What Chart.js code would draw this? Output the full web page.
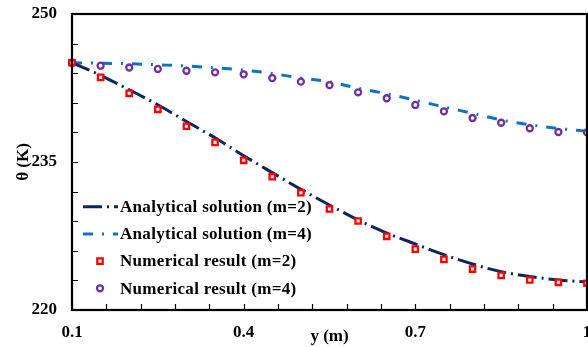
<!DOCTYPE html>
<html>
<head>
<meta charset="utf-8">
<script src="https://cdn.jsdelivr.net/npm/chart.js@4.4.1/dist/chart.umd.min.js"></script>
<style>
html, body { margin: 0; padding: 0; background: #fff; }
#wrap { width: 588px; height: 347px; }
</style>
</head>
<body>
<div id="wrap"><canvas id="myChart"></canvas></div>
<script>
// values
const yPos = [0.1, 0.15, 0.2, 0.25, 0.3, 0.35, 0.4, 0.45, 0.5, 0.55, 0.6, 0.65, 0.7, 0.75, 0.8, 0.85, 0.9, 0.95, 1.0];
const analyticM2 = [245.06, 243.79, 242.32, 240.80, 239.10, 237.45, 235.64, 233.92, 232.23, 230.64, 229.12, 227.80, 226.69, 225.61, 224.66, 223.88, 223.40, 223.04, 222.84];
const analyticM4 = [245.06, 245.01, 244.96, 244.85, 244.73, 244.55, 244.32, 243.97, 243.51, 243.13, 242.47, 241.92, 241.26, 240.58, 239.94, 239.26, 238.77, 238.40, 238.12];
const numericM2 = [245.06, 243.58, 241.96, 240.34, 238.62, 236.99, 235.17, 233.51, 231.89, 230.24, 229.02, 227.47, 226.17, 225.13, 224.15, 223.51, 223.04, 222.80, 222.71];
const numericM4 = [245.06, 244.76, 244.58, 244.43, 244.25, 244.09, 243.89, 243.51, 243.14, 242.80, 242.06, 241.46, 240.78, 240.14, 239.46, 238.98, 238.42, 238.04, 238.01];

const seriesNames = ['Analytical solution (m=2)', 'Analytical solution (m=4)', 'Numerical result (m=2)', 'Numerical result (m=4)'];

const xLabelTicks = [0.1, 0.4, 0.7, 1];
const xMinorTicks = [0.1, 0.16, 0.22, 0.28, 0.34, 0.4, 0.46, 0.52, 0.58, 0.64, 0.7, 0.76, 0.82, 0.88, 0.94, 1.0];
const yLabelTicks = [220, 235, 250];
const yMinorTicks = [220, 223, 226, 229, 232, 235, 238, 241, 244, 247, 250];

const FONT = 'Liberation Serif';

function pairs(vals) {
  return vals.map((v, i) => ({ x: yPos[i], y: v }));
}

// box, inside ticks and the legend inside the plot
const frame = {
  id: 'frame',
  afterDraw(chart) {
    const ctx = chart.ctx;
    const a = chart.chartArea;
    const xs = chart.scales.x;
    const ys = chart.scales.y;
    ctx.save();
    ctx.strokeStyle = '#000';
    ctx.lineWidth = 1.2;
    ctx.beginPath();
    xMinorTicks.forEach(v => {
      const px = Math.round(xs.getPixelForValue(v)) + 0.5;
      ctx.moveTo(px, a.bottom);
      ctx.lineTo(px, a.bottom - 6);
    });
    yMinorTicks.forEach(v => {
      const py = Math.round(ys.getPixelForValue(v)) + 0.5;
      ctx.moveTo(a.left, py);
      ctx.lineTo(a.left + 6, py);
    });
    ctx.stroke();
    ctx.lineWidth = 2.2;
    ctx.strokeRect(a.left, a.top, a.right - a.left, a.bottom - a.top);

    // legend
    ctx.font = 'bold 17px "' + FONT + '"';
    ctx.letterSpacing = '0.3px';
    ctx.textBaseline = 'middle';
    ctx.fillStyle = '#000';
    chart.data.datasets.forEach((ds, i) => {
      const y = a.bottom - 21.7 - (3 - i) * 27.2;
      if (ds.showLine) {
        ctx.setLineDash(ds.borderDash);
        ctx.strokeStyle = ds.borderColor;
        ctx.lineWidth = ds.borderWidth;
        ctx.beginPath();
        ctx.moveTo(a.left + 11, y);
        ctx.lineTo(a.left + 46, y);
        ctx.stroke();
        ctx.setLineDash([]);
      } else {
        ctx.strokeStyle = ds.pointBorderColor;
        ctx.fillStyle = '#fff';
        ctx.lineWidth = ds.pointBorderWidth;
        ctx.beginPath();
        if (ds.pointStyle === 'rect') {
          const s = ds.pointRadius * Math.SQRT1_2;
          ctx.rect(a.left + 28 - s, y - s, 2 * s, 2 * s);
        } else {
          ctx.arc(a.left + 28, y, ds.pointRadius, 0, Math.PI * 2);
        }
        ctx.fill();
        ctx.stroke();
        ctx.fillStyle = '#000';
      }
      ctx.fillText(seriesNames[i], a.left + 48, y + 1);
    });
    ctx.restore();
  }
};

const config = {
  type: 'line',
  data: {
    datasets: [
      {
        label: seriesNames[0],
        data: pairs(analyticM2),
        showLine: true,
        borderColor: '#0a2560',
        borderWidth: 3,
        borderDash: [19, 5, 2, 5],
        pointRadius: 0,
        cubicInterpolationMode: 'monotone',
        fill: false,
        order: 2
      },
      {
        label: seriesNames[1],
        data: pairs(analyticM4),
        showLine: true,
        borderColor: '#0a74c4',
        borderWidth: 3,
        borderDash: [10, 9, 2, 9],
        pointRadius: 0,
        cubicInterpolationMode: 'monotone',
        fill: false,
        order: 2
      },
      {
        label: seriesNames[2],
        data: pairs(numericM2),
        showLine: false,
        pointStyle: 'rect',
        pointRadius: 3.8,
        pointBorderWidth: 2.3,
        pointBorderColor: '#ff0000',
        pointBackgroundColor: '#fff',
        order: 1
      },
      {
        label: seriesNames[3],
        data: pairs(numericM4),
        showLine: false,
        pointStyle: 'circle',
        pointRadius: 3,
        pointBorderWidth: 2.3,
        pointBorderColor: '#7030a0',
        pointBackgroundColor: '#fff',
        order: 1
      }
    ]
  },
  options: {
    responsive: true,
    maintainAspectRatio: false,
    animation: false,
    clip: false,
    layout: { autoPadding: false, padding: { top: 14, right: 1, left: 0, bottom: 0 } },
    plugins: { legend: { display: false }, tooltip: { enabled: false } },
    scales: {
      x: {
        type: 'linear',
        min: 0.1,
        max: 1,
        afterBuildTicks: s => { s.ticks = xLabelTicks.map(v => ({ value: v })); },
        afterFit: s => { s.height = 37; s.paddingLeft = 0; s.paddingRight = 0; },
        grid: { display: false },
        border: { display: false },
        ticks: {
          autoSkip: false,
          maxRotation: 0,
          padding: 4,
          color: '#000',
          font: { family: FONT, size: 17, weight: 'bold' },
          callback: v => (v === 1 ? '1' : v.toFixed(1))
        },
        title: {
          display: true,
          text: 'y (m)',
          color: '#000',
          padding: { top: 0, bottom: 0 },
          font: { family: FONT, size: 17, weight: 'bold' }
        }
      },
      y: {
        min: 220,
        max: 250,
        afterBuildTicks: s => { s.ticks = yLabelTicks.map(v => ({ value: v })); },
        afterFit: s => { s.width = 72; s.paddingTop = 0; s.paddingBottom = 0; },
        grid: { display: false },
        border: { display: false },
        ticks: {
          padding: 7,
          color: '#000',
          font: { family: FONT, size: 17, weight: 'bold' }
        },
        title: {
          display: true,
          text: 'θ (K)',
          color: '#000',
          padding: { top: 13, bottom: 0 },
          font: { family: FONT, size: 17, weight: 'bold' }
        }
      }
    }
  },
  plugins: [frame]
};

let ctx = document.getElementById('myChart').getContext('2d');
let myChart = new Chart(ctx, config);
</script>
</body>
</html>
